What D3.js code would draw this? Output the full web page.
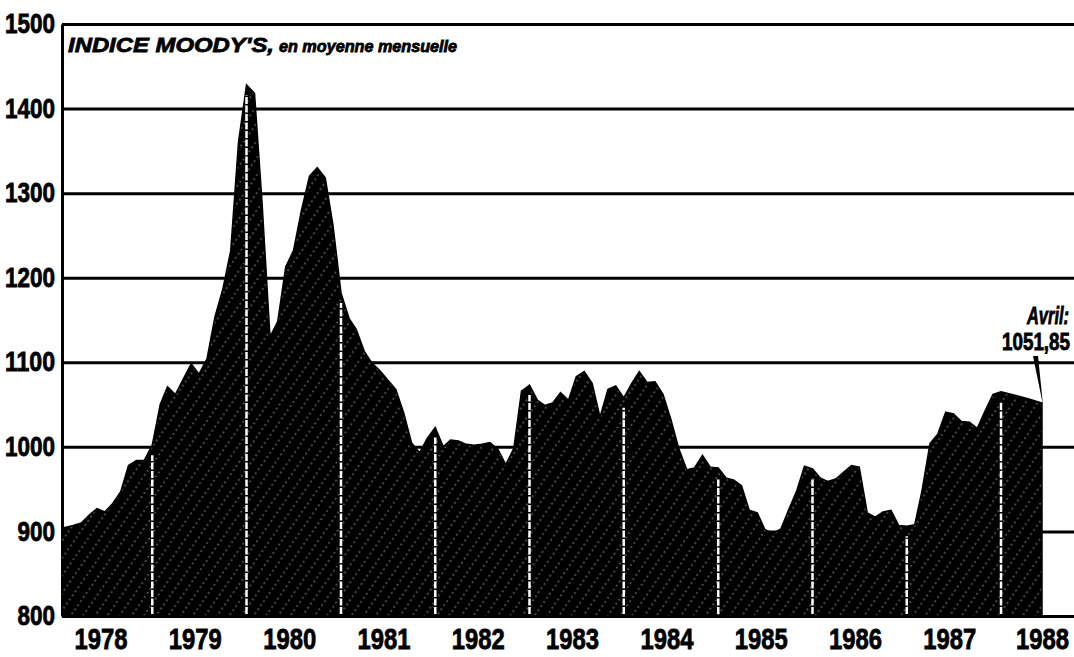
<!DOCTYPE html>
<html>
<head>
<meta charset="utf-8">
<script src="https://cdn.jsdelivr.net/npm/d3@7"></script>
<style>
  body { margin: 0; background: #fff; }
  svg { display: block; }
  .lbl { font-family: "Liberation Sans Narrow", "Liberation Sans", Arial, sans-serif; font-weight: bold; fill: #000; stroke: #000; stroke-width: 0.8px; }
</style>
</head>
<body>
<svg id="chart" width="1074" height="657"></svg>
<script>
// Moody's index, monthly average, Jan 1978 .. Apr 1988
var years = [1978, 1979, 1980, 1981, 1982, 1983, 1984, 1985, 1986, 1987, 1988];
var v1978 = [903, 905, 907, 910, 919, 927, 923, 933, 947, 978, 984, 984];
var v1979 = [1002, 1050, 1071, 1062, 1080, 1098, 1086, 1104, 1154, 1186, 1232, 1360];
var v1980 = [1428, 1418, 1290, 1130, 1148, 1213, 1232, 1280, 1320, 1330, 1318, 1262];
var v1981 = [1182, 1152, 1139, 1113, 1099, 1090, 1079, 1068, 1040, 1005, 993, 1010];
var v1982 = [1023, 1000, 1008, 1007, 1003, 1002, 1003, 1005, 997, 979, 998, 1066];
var v1983 = [1073, 1055, 1049, 1052, 1064, 1055, 1083, 1089, 1075, 1035, 1068, 1072];
var v1984 = [1058, 1075, 1089, 1076, 1077, 1062, 1033, 998, 973, 975, 990, 976];
var v1985 = [975, 963, 961, 954, 925, 922, 902, 898, 903, 926, 948, 977];
var v1986 = [974, 963, 959, 962, 970, 978, 976, 922, 917, 923, 925, 907];
var v1987 = [906, 908, 948, 1004, 1015, 1041, 1039, 1030, 1029, 1022, 1043, 1062];
var v1988 = [1065, 1061, 1057, 1051.85];
var yTicks = [800, 900, 1000, 1100, 1200, 1300, 1400, 1500];
var title = "INDICE MOODY'S,";
var subtitle = "en moyenne mensuelle";
var note = ["Avril:", "1051,85"];

var W = 1074, H = 657;
var left = 62;

var series = [v1978, v1979, v1980, v1981, v1982, v1983, v1984, v1985, v1986, v1987, v1988]
	.flatMap(function(arr, i) {
		return arr.map(function(v, m) { return {date: new Date(years[i], m, 1), value: v}; });
	});
var first = series[0], last = series[series.length - 1];

// the printed chart stretches the last few months a little
var x = d3.scaleTime()
	.domain([first.date, new Date(1988, 0, 1), last.date])
	.range([58, 1001, 1042]);
var y = d3.scaleLinear().domain([800, 1500]).range([616, 24]);

var svg = d3.select('#chart');
var defs = svg.append('defs');

var pat = defs.append('pattern')
	.attr('id', 'hatch')
	.attr('patternUnits', 'userSpaceOnUse')
	.attr('width', 10).attr('height', 10)
	.attr('patternTransform', 'rotate(35)');
pat.append('rect').attr('width', 10).attr('height', 10).attr('fill', '#000');
pat.append('line')
	.attr('x1', 1).attr('y1', 0).attr('x2', 1).attr('y2', 10)
	.attr('stroke', '#fff').attr('stroke-width', 0.9)
	.attr('stroke-dasharray', '2 3').attr('opacity', 0.6);

defs.append('clipPath').attr('id', 'plot')
	.append('rect').attr('x', left).attr('y', 0).attr('width', W - left).attr('height', y(800));

// grid + y labels
var yAxis = svg.append('g')
	.attr('transform', 'translate(' + left + ',0)')
	.call(d3.axisLeft(y).tickValues(yTicks).tickFormat(d3.format('d'))
		.tickSize(-(W - left)).tickSizeOuter(0).tickPadding(7));
yAxis.select('.domain').attr('stroke-width', 3);
yAxis.selectAll('.tick line').attr('stroke-width', 3);
yAxis.selectAll('.tick text')
	.attr('class', 'lbl')
	.style('font-size', '27px')
	.attr('textLength', function(d) { return String(d).length * 12.5; })
	.attr('lengthAdjust', 'spacingAndGlyphs');

// area
var area = d3.area()
	.x(function(d) { return x(d.date); })
	.y0(y(800))
	.y1(function(d) { return y(d.value); });

svg.append('path')
	.datum(series)
	.attr('clip-path', 'url(#plot)')
	.attr('fill', 'url(#hatch)')
	.attr('stroke', '#000')
	.attr('stroke-width', 1.5)
	.attr('d', area);

// white year separators
var seps = series.filter(function(d) { return d.date.getMonth() == 0 && d.date.getFullYear() > 1978; });
svg.selectAll('line.sep')
	.data(seps)
	.enter()
	.append('line')
	.attr('class', 'sep')
	.attr('x1', function(d) { return x(d.date); })
	.attr('x2', function(d) { return x(d.date); })
	.attr('y1', y(800) - 2)
	.attr('y2', function(d) { return y(d.value) + 10; })
	.attr('stroke', '#fff')
	.attr('stroke-width', 2.5)
	.attr('stroke-dasharray', '7 1.5');

// year labels
var labelDates = years.map(function(yr) {
	var mid = new Date(yr, 5, 15);
	return mid > last.date ? last.date : mid;
});
var xAxis = svg.append('g')
	.attr('transform', 'translate(0,' + y(800) + ')')
	.call(d3.axisBottom(x).tickValues(labelDates).tickFormat(d3.timeFormat('%Y')).tickSize(0).tickPadding(12));
xAxis.select('.domain').remove();
xAxis.selectAll('.tick text')
	.attr('class', 'lbl')
	.style('font-size', '30px')
	.attr('textLength', 53)
	.attr('lengthAdjust', 'spacingAndGlyphs');

// title
svg.append('text')
	.attr('class', 'lbl')
	.attr('x', 68).attr('y', 52)
	.style('font-size', '21px').style('font-style', 'italic')
	.attr('textLength', 206).attr('lengthAdjust', 'spacingAndGlyphs')
	.text(title);
svg.append('text')
	.attr('class', 'lbl')
	.attr('x', 279).attr('y', 52)
	.style('font-size', '16px').style('font-style', 'italic')
	.attr('textLength', 178).attr('lengthAdjust', 'spacingAndGlyphs')
	.text(subtitle);

// "Avril" note and pointer
var px = x(last.date), py = y(last.value);
svg.append('path')
	.attr('d', 'M' + (px - 9) + ',' + (py - 47) + 'L' + (px - 4) + ',' + (py - 47) + 'L' + (px + 1) + ',' + (py + 2) + 'Z')
	.attr('fill', '#000');

svg.append('text')
	.attr('class', 'lbl')
	.attr('x', W - 5).attr('y', py - 79)
	.attr('text-anchor', 'end')
	.style('font-size', '23px').style('font-style', 'italic')
	.attr('textLength', 42).attr('lengthAdjust', 'spacingAndGlyphs')
	.text(note[0]);
svg.append('text')
	.attr('class', 'lbl')
	.attr('x', W - 4).attr('y', py - 53)
	.attr('text-anchor', 'end')
	.style('font-size', '24px')
	.attr('textLength', 68).attr('lengthAdjust', 'spacingAndGlyphs')
	.text(note[1]);
</script>
</body>
</html>
